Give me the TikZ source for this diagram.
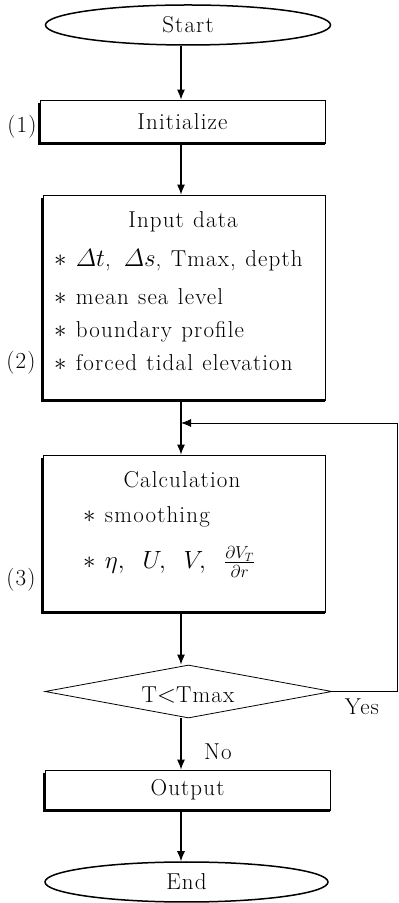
\documentclass[tikz,border=0pt]{standalone}
\usepackage{amsmath,amssymb}
\usepackage{fontspec}
\setmainfont{Latin Modern Roman}[LetterSpace=5,WordSpace=1.15]
\usepackage{tikz}
\usetikzlibrary{arrows.meta,positioning,shapes.geometric,calc}

\begin{document}
\begin{tikzpicture}[
  x=1pt,y=1pt,
  font=\fontsize{23}{27}\selectfont,
  >={Latex[length=10pt,width=8pt]},
  term/.style={draw,ellipse,line width=1.5pt,minimum width=285pt,minimum height=40pt,inner sep=0pt},
  proc/.style={draw,line width=0.8pt,inner sep=0pt},
  cond/.style={draw,diamond,line width=0.8pt,aspect=5.4,minimum width=287pt,minimum height=53pt,inner sep=0pt},
  flow/.style={->,line width=1.1pt},
  item/.style={anchor=west,inner sep=0pt}
]
\useasboundingbox (0,0) rectangle (399,903);

% Flow chart blocks.
\node[term] (start) at (188,878) {Start};
\node[proc,minimum width=285pt,minimum height=43pt] (init) at (182.5,781.5) {Initialize};
\node[proc,minimum width=282pt,minimum height=205pt] (input) at (184,605.5) {};
\node[proc,minimum width=282pt,minimum height=157pt] (calc) at (184,369.5) {};
\node[cond] (test) at (188.5,211.5) {};
\node[proc,minimum width=285pt,minimum height=40pt] (output) at (187.5,113) {Output};
\node[term,minimum width=283pt] (end) at (186.5,21) {End};

\foreach \b in {init,input,calc,output}{
  \draw[line width=2.6pt] ([yshift=-3pt]\b.north west) -- (\b.south west) -- (\b.south east);
}

% Texts in the boxes.
\node (intitle) at (183,681) {Input data};
\foreach \t/\y in {{$\ast$ $\varDelta t$,\, $\varDelta s$, Tmax, depth}/643,
                   {$\ast$ mean sea level}/606,
                   {$\ast$ boundary profile}/571,
                   {$\ast$ forced tidal elevation}/540}{
  \node[item] at (54,\y) {\t};
}
\node (caltitle) at (182,423) {Calculation};
\node[item] (smooth) at (83,386) {$\ast$ smoothing};
\node[item] (vars) at (83,341) {$\ast$ $\eta,\;\; U,\;\; V,\;\; \frac{\partial V_T}{\partial r}$};
\node (testtxt) at (188,208) {T$<$Tmax};

\node (n1) at (22,776) {(1)};
\node (n2) at (21,540) {(2)};
\node (n3) at (21,323) {(3)};

% Connectors.
\coordinate (join) at (181,480);
\draw[flow] (start.south -| join) -- (init.north -| join);
\draw[flow] (init.south -| join) -- (input.north -| join);
\draw[flow] (input.south -| join) -- (calc.north -| join);
\draw[flow] (calc.south -| join) -- (test.north -| join);
\draw[flow] (test.south -| join) -- (output.north -| join);
\draw[flow] (output.south -| join) -- (end.north -| join);
\draw[->,line width=0.8pt] (test.east) -- ++(65,0) |- (join);

\node (yes) at (362,196) {Yes};
\node (no) at (218,151) {No};
\end{tikzpicture}
\end{document}
